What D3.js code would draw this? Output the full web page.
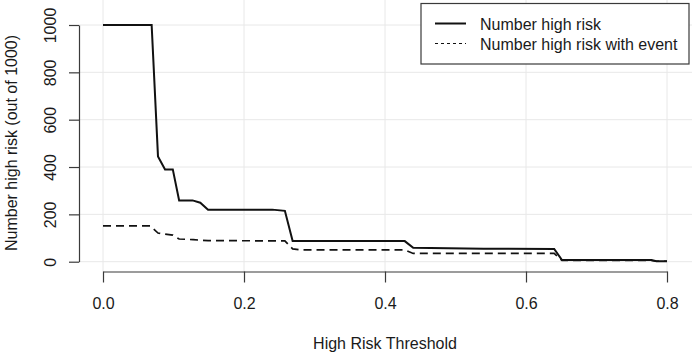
<!DOCTYPE html>
<html>
<head>
<meta charset="utf-8">
<script src="https://cdn.jsdelivr.net/npm/d3@7"></script>
<style>
  html, body { margin: 0; padding: 0; background: #fff; }
  svg { display: block; font-family: "Liberation Sans", Arial, sans-serif; }
</style>
</head>
<body>
<svg id="chart" width="692" height="354"></svg>
<script>
// ---- data ----
const highRiskThreshold = [0, 0.069, 0.078, 0.088, 0.099, 0.108, 0.127, 0.138, 0.149, 0.24, 0.258, 0.269, 0.428, 0.44, 0.54, 0.64, 0.651, 0.778, 0.785, 0.8];
const numberHighRisk    = [1000, 1000, 445, 390, 390, 259, 259, 249, 220, 220, 215, 87, 87, 59, 55, 54, 7, 7, 2, 2];

const eventThreshold          = [0, 0.067, 0.078, 0.099, 0.108, 0.128, 0.149, 0.258, 0.269, 0.28, 0.428, 0.44, 0.64, 0.651, 0.778, 0.785, 0.8];
const numberHighRiskWithEvent = [151, 151, 121, 112, 96, 93, 89, 88, 54, 50, 50, 35, 35, 5, 5, 2, 2];

const xTicks = [0, 0.2, 0.4, 0.6, 0.8];
const yTicks = [0, 200, 400, 600, 800, 1000];
const legendLabels = ["Number high risk", "Number high risk with event"];
const xTitle = "High Risk Threshold";
const yTitle = "Number high risk (out of 1000)";

// ---- drawing ----
const svg = d3.select("#chart");
const x = d3.scaleLinear().domain([0, 0.8]).range([103, 667]);
const y = d3.scaleLinear().domain([0, 1000]).range([261.7, 25]);
const axisX = 79, axisY = 271.5;
const textColor = "#1a1a1a", axisColor = "#3a3a3a";

// grid
const grid = svg.append("g").attr("stroke", "#e8e8e8").attr("stroke-width", 1);
grid.selectAll("line.v").data(xTicks).join("line")
  .attr("x1", d => x(d)).attr("x2", d => x(d)).attr("y1", 0).attr("y2", axisY);
grid.selectAll("line.h").data(yTicks).join("line")
  .attr("x1", axisX).attr("x2", 692).attr("y1", d => y(d)).attr("y2", d => y(d));

// lines
const line = d3.line().x(d => x(d[0])).y(d => y(d[1]));
const solidData = highRiskThreshold.map((t, i) => [t, numberHighRisk[i]]);
const dashData = eventThreshold.map((t, i) => [t, numberHighRiskWithEvent[i]]);
svg.append("path").datum(dashData).attr("d", line)
  .attr("fill", "none").attr("stroke", "#111").attr("stroke-width", 1.7)
  .attr("stroke-dasharray", "8,5");
svg.append("path").datum(solidData).attr("d", line)
  .attr("fill", "none").attr("stroke", "#111").attr("stroke-width", 2);

// x axis
const gx = svg.append("g").attr("transform", `translate(0,${axisY})`)
  .call(d3.axisBottom(x).tickValues(xTicks).tickFormat(d3.format(".1f")).tickSize(11).tickSizeOuter(0));
gx.select(".domain").attr("stroke", axisColor).attr("stroke-width", 1.2);
gx.selectAll(".tick line").attr("stroke", axisColor).attr("stroke-width", 1.2);
gx.selectAll(".tick text").attr("y", 37).attr("dy", 0).attr("fill", textColor)
  .style("font-size", "16px").style("font-family", "'Liberation Sans', Arial, sans-serif");

// y axis
const gy = svg.append("g").attr("transform", `translate(${axisX},0)`)
  .call(d3.axisLeft(y).tickValues(yTicks).tickFormat(d3.format("d")).tickSize(10).tickSizeOuter(0));
gy.select(".domain").attr("stroke", axisColor).attr("stroke-width", 1.2);
gy.selectAll(".tick line").attr("stroke", axisColor).attr("stroke-width", 1.2);
gy.selectAll(".tick text")
  .attr("x", null).attr("dy", 0)
  .attr("transform", "translate(-23,0) rotate(-90)")
  .attr("text-anchor", "middle").attr("fill", textColor)
  .style("font-size", "16px").style("font-family", "'Liberation Sans', Arial, sans-serif");

// titles
svg.append("text").attr("x", 385).attr("y", 349).attr("text-anchor", "middle")
  .attr("fill", textColor).style("font-size", "16px").text(xTitle);
svg.append("text").attr("transform", "translate(16.5,143) rotate(-90)")
  .attr("text-anchor", "middle").attr("fill", textColor).style("font-size", "16px").text(yTitle);

// legend
const lg = svg.append("g");
lg.append("rect").attr("x", 421).attr("y", 3.5).attr("width", 268).attr("height", 60.5)
  .attr("fill", "#fff").attr("stroke", axisColor).attr("stroke-width", 1.2);
const legendStyles = [{dash: null, w: 2}, {dash: "3,3", w: 1}];
legendLabels.forEach((lab, i) => {
  const cy = 23.5 + i * 20;
  lg.append("line").attr("x1", 435).attr("x2", 466).attr("y1", cy).attr("y2", cy)
    .attr("stroke", "#111").attr("stroke-width", legendStyles[i].w)
    .attr("stroke-dasharray", legendStyles[i].dash);
  lg.append("text").attr("x", 480).attr("y", cy + 6).attr("fill", textColor)
    .style("font-size", "16px").text(lab);
});
</script>
</body>
</html>
